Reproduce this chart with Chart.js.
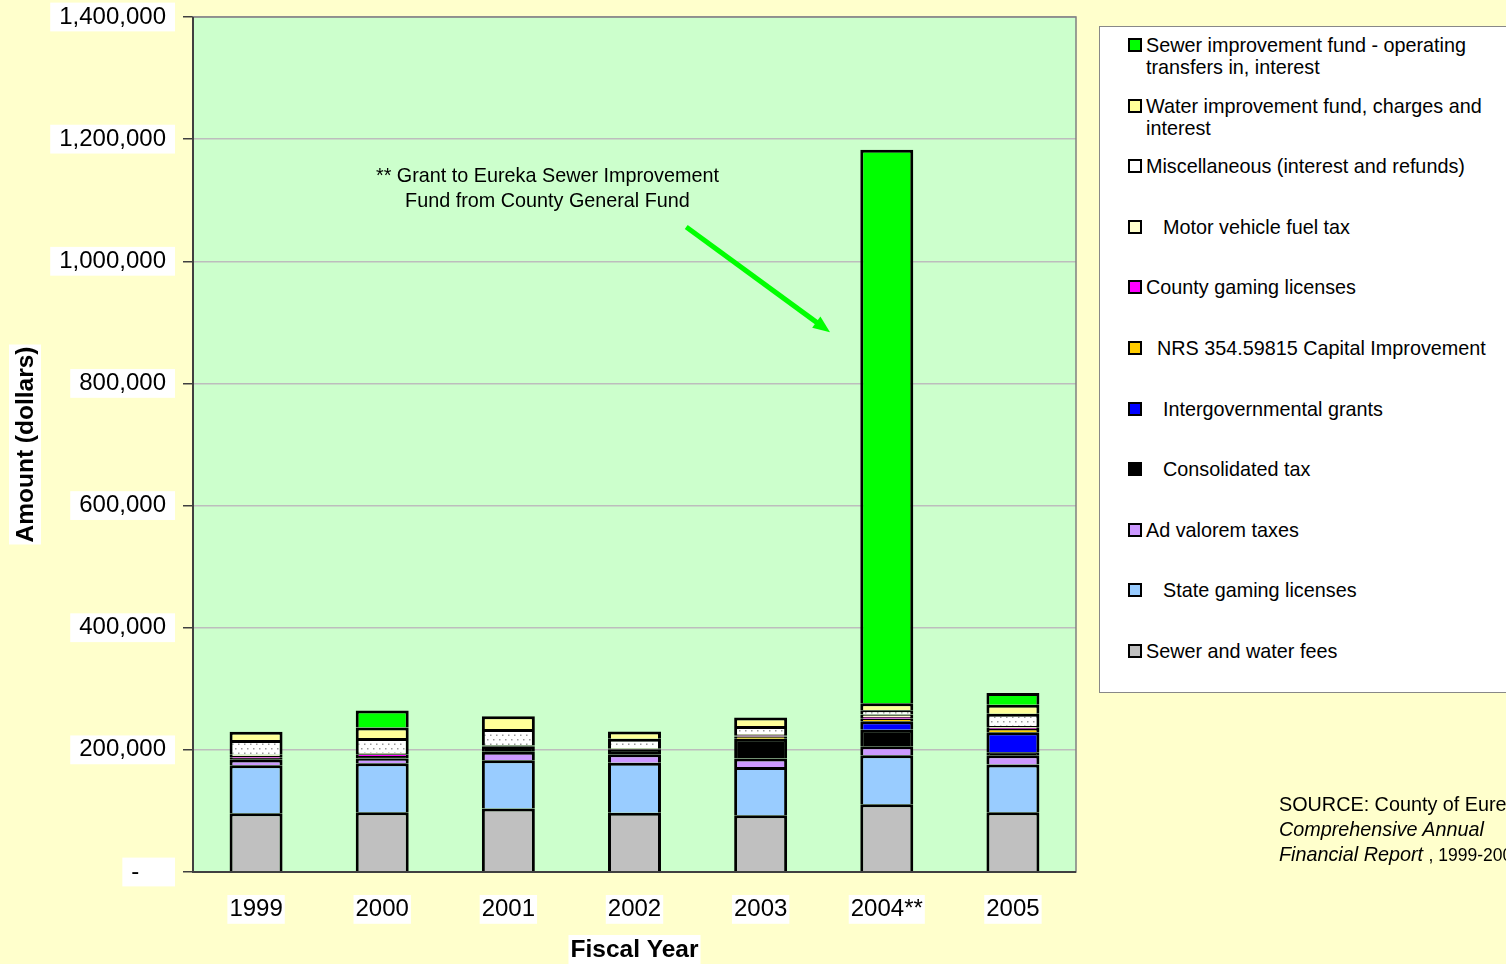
<!DOCTYPE html>
<html>
<head>
<meta charset="utf-8">
<script src="https://cdn.jsdelivr.net/npm/chart.js@4.4.1/dist/chart.umd.min.js"></script>
<style>
  html, body { margin: 0; padding: 0; background: #FFFFCC; overflow: hidden; }
  body { width: 1506px; height: 964px; position: relative; font-family: "Liberation Sans", Arial, sans-serif; }
  #chart { position: absolute; left: 0; top: 0; }
  #legend { position: absolute; left: 1099px; top: 26px; width: 440px; height: 665px; background: #fff; border: 1px solid #888; }
  .item { position: absolute; left: 28px; font-size: 19.8px; line-height: 22px; color: #000; }
  .item .box { position: absolute; left: 0; top: 4px; width: 14px; height: 14px; box-sizing: border-box; border: 2px solid #000; }
  .item .txt { position: absolute; left: 18px; top: 0; width: 352px; }
  #source { position: absolute; left: 1279px; top: 792px; font-size: 19.8px; line-height: 25px; white-space: nowrap; color: #000; }
  #source i { font-style: italic; }
  #source .small { font-size: 17.5px; }
</style>
</head>
<body>
<canvas id="chart" width="1506" height="964"></canvas>
<div id="legend"></div>
<div id="source">SOURCE: County of Eureka<br><i>Comprehensive Annual</i><br><i>Financial Report</i> <span class="small">, 1999-2006</span></div>
<script>
// fiscal years
const years = ['1999', '2000', '2001', '2002', '2003', '2004**', '2005'];

// revenue by source, dollars (bottom of stack first)
const sewerWaterFees   = [96000, 98000, 104000, 97000, 93000, 111000, 98000];
const stateGaming      = [79000, 80000, 79000, 82000, 79000, 80000, 78000];
const adValorem        = [9000, 8000, 14000, 14000, 14000, 15000, 15000];
const consolidatedTax  = [3000, 4000, 9000, 8000, 32000, 27000, 5000];
const intergovGrants   = [null, null, null, null, null, 14000, 33000];
const nrsCapital       = [null, null, null, null, 4000, 4000, 5000];
const countyGaming     = [3000, 3000, 1000, 1000, 2000, 3000, 2000];
const motorFuelTax     = [2000, 2000, 1000, 1000, 2000, 4000, 3000];
const miscellaneous    = [24000, 24500, 26000, 15000, 13000, 7000, 20000];
const waterImprovement = [13500, 17000, 21000, 12000, 14000, 11500, 15000];
const sewerImprovement = [null, 28000, null, null, null, 906000, 19000];

const yTicksMax = 1400000;
const yTickStep = 200000;

// annotation text and arrow (in category index / dollar units)
const noteLines = ['** Grant to Eureka Sewer Improvement', 'Fund from County General Fund'];
const noteAt = { x: 2.31, y: 1139000 };
const arrowFrom = { x: 3.41, y: 1056000 };
const arrowTo = { x: 4.55, y: 884000 };

const FONT = '"Liberation Sans", Arial, sans-serif';

// dotted fill for Miscellaneous
function dotPattern() {
    const c = document.createElement('canvas');
    c.width = 6; c.height = 9;
    const g = c.getContext('2d');
    g.fillStyle = '#fff';
    g.fillRect(0, 0, 6, 9);
    g.fillStyle = '#999';
    g.fillRect(1, 1, 1.5, 1.5);
    g.fillRect(4, 5.5, 1.5, 1.5);
    return g.createPattern(c, 'repeat');
}

const series = [
    { label: 'Sewer and water fees', data: sewerWaterFees, color: '#C0C0C0', indent: 0 },
    { label: 'State gaming licenses', data: stateGaming, color: '#99CCFF', indent: 17 },
    { label: 'Ad valorem taxes', data: adValorem, color: '#CC99FF', indent: 0 },
    { label: 'Consolidated tax', data: consolidatedTax, color: '#000000', indent: 17 },
    { label: 'Intergovernmental grants', data: intergovGrants, color: '#0000FF', indent: 17 },
    { label: 'NRS 354.59815 Capital Improvement', data: nrsCapital, color: '#FFCC00', indent: 11 },
    { label: 'County gaming licenses', data: countyGaming, color: '#FF00FF', indent: 0 },
    { label: 'Motor vehicle fuel tax', data: motorFuelTax, color: '#FFFFCC', indent: 17 },
    { label: 'Miscellaneous (interest and refunds)', data: miscellaneous, color: dotPattern(), legendColor: '#fff', indent: 0 },
    { label: 'Water improvement fund, charges and interest', data: waterImprovement, color: '#FFFF99', indent: 0 },
    { label: 'Sewer improvement fund - operating transfers in, interest', data: sewerImprovement, color: '#00FF00', indent: 0 }
];

const bgPlugin = {
    id: 'bg',
    beforeDraw(chart) {
        const { ctx, chartArea: a } = chart;
        ctx.save();
        ctx.fillStyle = '#CCFFCC';
        ctx.fillRect(a.left, a.top, a.right - a.left, a.bottom - a.top);
        ctx.restore();
    },
    afterDatasetsDraw(chart) {
        const { ctx, chartArea: a, scales } = chart;
        ctx.save();
        // plot frame
        ctx.strokeStyle = '#808080';
        ctx.lineWidth = 1.5;
        ctx.strokeRect(a.left, a.top, a.right - a.left, a.bottom - a.top);
        ctx.strokeStyle = '#404040';
        ctx.lineWidth = 2;
        ctx.beginPath();
        ctx.moveTo(a.left, a.top);
        ctx.lineTo(a.left, a.bottom);
        ctx.lineTo(a.right, a.bottom);
        ctx.stroke();

        // note text
        ctx.font = '19.8px ' + FONT;
        ctx.fillStyle = '#000';
        ctx.textAlign = 'center';
        ctx.textBaseline = 'middle';
        const nx = scales.x.getPixelForValue(noteAt.x);
        const ny = scales.y.getPixelForValue(noteAt.y);
        noteLines.forEach((t, i) => ctx.fillText(t, nx, ny + i * 25));

        // arrow
        const x1 = scales.x.getPixelForValue(arrowFrom.x), y1 = scales.y.getPixelForValue(arrowFrom.y);
        const x2 = scales.x.getPixelForValue(arrowTo.x), y2 = scales.y.getPixelForValue(arrowTo.y);
        const ang = Math.atan2(y2 - y1, x2 - x1);
        const head = 17;
        ctx.strokeStyle = '#00FF00';
        ctx.fillStyle = '#00FF00';
        ctx.lineWidth = 5;
        ctx.beginPath();
        ctx.moveTo(x1, y1);
        ctx.lineTo(x2 - Math.cos(ang) * head * 0.8, y2 - Math.sin(ang) * head * 0.8);
        ctx.stroke();
        ctx.beginPath();
        ctx.moveTo(x2, y2);
        ctx.lineTo(x2 - head * Math.cos(ang) + 7 * Math.sin(ang), y2 - head * Math.sin(ang) - 7 * Math.cos(ang));
        ctx.lineTo(x2 - head * Math.cos(ang) - 7 * Math.sin(ang), y2 - head * Math.sin(ang) + 7 * Math.cos(ang));
        ctx.closePath();
        ctx.fill();

        // axis titles with white boxes
        ctx.font = 'bold 24.5px ' + FONT;
        const xt = 'Fiscal Year';
        const xw = ctx.measureText(xt).width;
        const xc = (a.left + a.right) / 2;
        ctx.fillStyle = '#fff';
        ctx.fillRect(xc - xw / 2 - 2, 935, xw + 4, 29);
        ctx.fillStyle = '#000';
        ctx.fillText(xt, xc, 950);

        const yt = 'Amount (dollars)';
        const yw = ctx.measureText(yt).width;
        const yc = (a.top + a.bottom) / 2;
        ctx.translate(25, yc);
        ctx.rotate(-Math.PI / 2);
        ctx.fillStyle = '#fff';
        ctx.fillRect(-yw / 2 - 2, -16, yw + 4, 32);
        ctx.fillStyle = '#000';
        ctx.fillText(yt, 0, 1);
        ctx.restore();
    }
};

new Chart(document.getElementById('chart'), {
    type: 'bar',
    data: {
        labels: years,
        datasets: series.map(s => ({
            label: s.label,
            data: s.data,
            backgroundColor: s.color,
            borderColor: '#000',
            borderWidth: 3,
            categoryPercentage: 1,
            barPercentage: 0.42
        }))
    },
    options: {
        responsive: false,
        animation: false,
        layout: { padding: { left: 0, top: 17, right: 430, bottom: 0 } },
        plugins: { legend: { display: false }, tooltip: { enabled: false } },
        scales: {
            x: {
                stacked: true,
                afterFit: s => { s.height = 92; s.paddingLeft = 0; s.paddingRight = 0; },
                grid: { display: false, drawTicks: false },
                border: { display: false },
                ticks: {
                    color: '#000',
                    font: { family: FONT, size: 24 },
                    padding: 23,
                    showLabelBackdrop: true,
                    backdropColor: '#fff',
                    backdropPadding: { x: 2, y: 0 }
                }
            },
            y: {
                stacked: true,
                min: 0,
                max: yTicksMax,
                afterFit: s => { s.width = 193; s.paddingTop = 0; s.paddingBottom = 0; },
                grid: { color: '#BDBDBD', lineWidth: 1.5, tickLength: 10, tickColor: '#404040' },
                border: { display: false },
                ticks: {
                    stepSize: yTickStep,
                    color: '#000',
                    font: { family: FONT, size: 24 },
                    padding: 17,
                    showLabelBackdrop: true,
                    backdropColor: '#fff',
                    backdropPadding: { x: 9, y: 0 },
                    callback: v => v === 0 ? '-    ' : v.toLocaleString('en-US')
                }
            }
        }
    },
    plugins: [bgPlugin]
});

// legend, top of stack first
const legend = document.getElementById('legend');
series.slice().reverse().forEach((s, i) => {
    const it = document.createElement('div');
    it.className = 'item';
    it.style.top = (7 + i * 60.6) + 'px';
    const box = document.createElement('div');
    box.className = 'box';
    box.style.background = s.legendColor || s.color;
    const txt = document.createElement('div');
    txt.className = 'txt';
    txt.style.paddingLeft = s.indent + 'px';
    txt.textContent = s.label;
    it.appendChild(box);
    it.appendChild(txt);
    legend.appendChild(it);
});
</script>
</body>
</html>
